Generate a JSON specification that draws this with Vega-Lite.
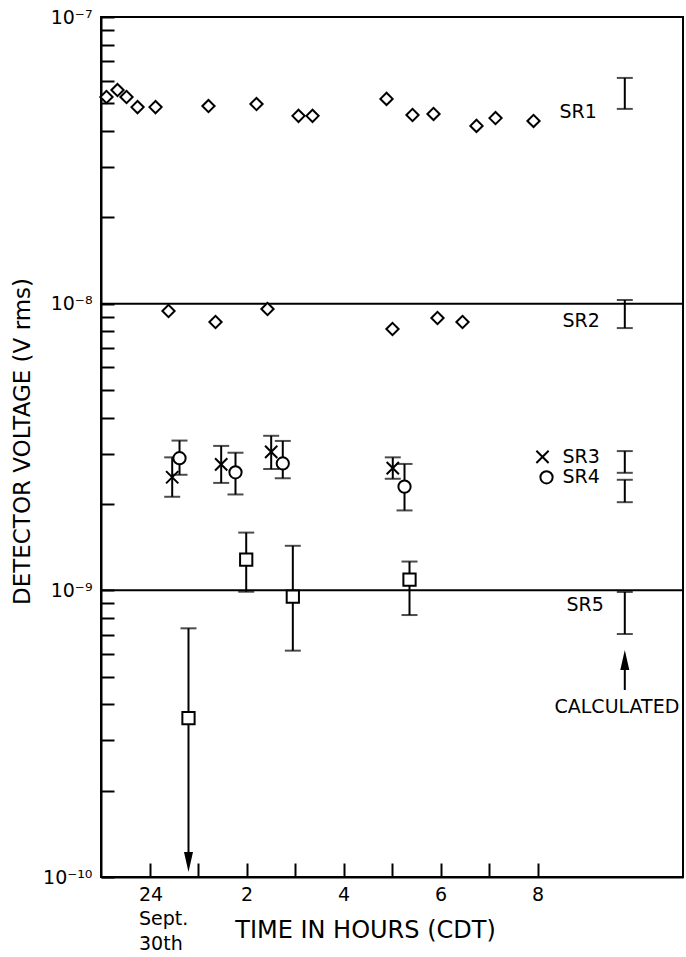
{
  "$schema": "https://vega.github.io/schema/vega-lite/v6.json",
  "width": 582,
  "height": 860,
  "autosize": {"type": "none"},
  "padding": {"left": 101, "top": 17, "right": 3, "bottom": 80},
  "background": "white",
  "config": {
    "font": "DejaVu Sans",
    "view": {"stroke": "black", "strokeWidth": 2},
    "axis": {
      "domainColor": "black", "domainWidth": 2,
      "tickColor": "black", "tickWidth": 2,
      "labelColor": "black", "titleColor": "black",
      "labelFont": "DejaVu Sans", "titleFont": "DejaVu Sans",
      "titleFontWeight": "normal", "grid": false
    }
  },
  "datasets": {
    "grid": [{"v": 1e-8}, {"v": 1e-9}],
    "obs": [
      {"series": "SR1", "t": -0.887, "v": 5.26e-8},
      {"series": "SR1", "t": -0.660, "v": 5.56e-8},
      {"series": "SR1", "t": -0.474, "v": 5.26e-8},
      {"series": "SR1", "t": -0.247, "v": 4.85e-8},
      {"series": "SR1", "t": 0.124, "v": 4.85e-8},
      {"series": "SR1", "t": 1.216, "v": 4.89e-8},
      {"series": "SR1", "t": 2.206, "v": 4.97e-8},
      {"series": "SR1", "t": 3.072, "v": 4.52e-8},
      {"series": "SR1", "t": 3.361, "v": 4.52e-8},
      {"series": "SR1", "t": 4.887, "v": 5.18e-8},
      {"series": "SR1", "t": 5.423, "v": 4.55e-8},
      {"series": "SR1", "t": 5.856, "v": 4.59e-8},
      {"series": "SR1", "t": 6.742, "v": 4.17e-8},
      {"series": "SR1", "t": 7.134, "v": 4.44e-8},
      {"series": "SR1", "t": 7.918, "v": 4.34e-8},
      {"series": "SR2", "t": 0.392, "v": 9.43e-9},
      {"series": "SR2", "t": 1.361, "v": 8.63e-9},
      {"series": "SR2", "t": 2.433, "v": 9.58e-9},
      {"series": "SR2", "t": 5.010, "v": 8.16e-9},
      {"series": "SR2", "t": 5.938, "v": 8.91e-9},
      {"series": "SR2", "t": 6.454, "v": 8.63e-9},
      {"series": "SR3", "t": 0.468, "v": 2.48e-9, "lo": 2.12e-9, "hi": 2.91e-9},
      {"series": "SR3", "t": 1.478, "v": 2.75e-9, "lo": 2.37e-9, "hi": 3.19e-9},
      {"series": "SR3", "t": 2.509, "v": 3.04e-9, "lo": 2.65e-9, "hi": 3.46e-9},
      {"series": "SR3", "t": 5.016, "v": 2.67e-9, "lo": 2.45e-9, "hi": 2.91e-9},
      {"series": "SR4", "t": 0.619, "v": 2.89e-9, "lo": 2.53e-9, "hi": 3.33e-9},
      {"series": "SR4", "t": 1.773, "v": 2.58e-9, "lo": 2.16e-9, "hi": 3.02e-9},
      {"series": "SR4", "t": 2.748, "v": 2.77e-9, "lo": 2.46e-9, "hi": 3.32e-9},
      {"series": "SR4", "t": 5.258, "v": 2.30e-9, "lo": 1.90e-9, "hi": 2.76e-9},
      {"series": "SR5", "t": 0.804, "v": 3.58e-10, "lo": null, "hi": 7.37e-10},
      {"series": "SR5", "t": 1.994, "v": 1.28e-9, "lo": 9.89e-10, "hi": 1.59e-9},
      {"series": "SR5", "t": 2.955, "v": 9.50e-10, "lo": 6.16e-10, "hi": 1.43e-9},
      {"series": "SR5", "t": 5.361, "v": 1.09e-9, "lo": 8.20e-10, "hi": 1.26e-9},
      {"series": "SR1", "t": 9.8, "v": null, "lo": 4.78e-8, "hi": 6.13e-8},
      {"series": "SR2", "t": 9.8, "v": null, "lo": 8.22e-9, "hi": 1.03e-8},
      {"series": "SR3", "t": 9.8, "v": null, "lo": 2.57e-9, "hi": 3.06e-9},
      {"series": "SR4", "t": 9.8, "v": null, "lo": 2.03e-9, "hi": 2.43e-9},
      {"series": "SR5", "t": 9.8, "v": null, "lo": 7.04e-10, "hi": 9.87e-10}
    ],
    "key": [
      {"series": "SR3", "t": 8.103, "v": 2.92e-9},
      {"series": "SR4", "t": 8.186, "v": 2.48e-9}
    ],
    "arrows": [
      {"dir": "down", "t": 0.804, "from": 7.37e-10, "to": 1.127e-10},
      {"dir": "up", "t": 9.8, "from": 4.49e-10, "to": 5.71e-10}
    ],
    "notes": [
      {"label": "SR1", "t": 8.454, "v": 4.66e-8},
      {"label": "SR2", "t": 8.515, "v": 8.70e-9},
      {"label": "SR3", "t": 8.515, "v": 2.92e-9},
      {"label": "SR4", "t": 8.515, "v": 2.48e-9},
      {"label": "SR5", "t": 8.598, "v": 8.89e-10},
      {"label": "CALCULATED", "t": 8.351, "v": 3.92e-10}
    ]
  },
  "layer": [
    {
      "data": {"name": "grid"},
      "mark": {"type": "rule", "color": "black", "strokeWidth": 2},
      "encoding": {
        "y": {
          "field": "v", "type": "quantitative",
          "scale": {"type": "log", "domain": [1e-10, 1e-7], "nice": false},
          "axis": {
            "title": "DETECTOR VOLTAGE (V rms)",
            "titleFontSize": 23,
            "titleAngle": -90,
            "titleAlign": "center",
            "titleBaseline": "middle",
            "titleX": -79,
            "titleY": 424,
            "values": [1e-10, 2e-10, 3e-10, 4e-10, 5e-10, 6e-10, 7e-10, 8e-10, 9e-10,
                       1e-9, 2e-9, 3e-9, 4e-9, 5e-9, 6e-9, 7e-9, 8e-9, 9e-9,
                       1e-8, 2e-8, 3e-8, 4e-8, 5e-8, 6e-8, 7e-8, 8e-8, 9e-8, 1e-7],
            "tickSize": -13,
            "labelPadding": 22,
            "labelFontSize": 19,
            "labelOverlap": false,
            "labelFlush": false,
            "labelExpr": "abs(datum.value * pow(10, round(-log(datum.value) / LN10)) - 1) < 0.01 ? (round(-log(datum.value) / LN10) == 10 ? '10⁻¹⁰' : round(-log(datum.value) / LN10) == 9 ? '10⁻⁹' : round(-log(datum.value) / LN10) == 8 ? '10⁻⁸' : '10⁻⁷') : ''"
          }
        }
      }
    },
    {
      "data": {"name": "obs"},
      "mark": {"type": "rule", "color": "black", "strokeWidth": 2},
      "encoding": {
        "x": {
          "field": "t", "type": "quantitative",
          "scale": {"domain": [-1, 11], "nice": false, "zero": false},
          "axis": {
            "title": "TIME IN HOURS (CDT)",
            "titleFontSize": 24,
            "titleAnchor": null,
            "titleAlign": "center",
            "titleBaseline": "middle",
            "titleX": 264,
            "titleY": 53,
            "values": [0, 1, 2, 3, 4, 5, 6, 7, 8],
            "tickSize": -14,
            "labelPadding": 22,
            "labelFontSize": 19,
            "labelBaseline": "top",
            "labelLineHeight": 24.5,
            "labelOverlap": false,
            "labelFlush": false,
            "labelAlign": {"condition": {"test": "datum.value == 0", "value": "left"}, "value": "center"},
            "labelOffset": {"condition": {"test": "datum.value == 0", "value": -11}, "value": 0},
            "labelExpr": "datum.value == 0 ? ['24', 'Sept.', '30th'] : (datum.value % 2 == 0 ? format(datum.value, 'd') : '')"
          }
        },
        "y": {"field": "lo", "type": "quantitative", "scale": {"type": "log", "domain": [1e-10, 1e-7], "nice": false}},
        "y2": {"field": "hi"}
      }
    },
    {
      "data": {"name": "obs"},
      "mark": {"type": "tick", "orient": "horizontal", "color": "black", "size": 16, "thickness": 2},
      "encoding": {
        "x": {"field": "t", "type": "quantitative", "scale": {"domain": [-1, 11], "nice": false, "zero": false}},
        "y": {"field": "hi", "type": "quantitative", "scale": {"type": "log", "domain": [1e-10, 1e-7], "nice": false}}
      }
    },
    {
      "data": {"name": "obs"},
      "mark": {"type": "tick", "orient": "horizontal", "color": "black", "size": 16, "thickness": 2},
      "encoding": {
        "x": {"field": "t", "type": "quantitative", "scale": {"domain": [-1, 11], "nice": false, "zero": false}},
        "y": {"field": "lo", "type": "quantitative", "scale": {"type": "log", "domain": [1e-10, 1e-7], "nice": false}}
      }
    },
    {
      "data": {"name": "arrows"},
      "mark": {"type": "rule", "color": "black", "strokeWidth": 2},
      "encoding": {
        "x": {"field": "t", "type": "quantitative", "scale": {"domain": [-1, 11], "nice": false, "zero": false}},
        "y": {"field": "from", "type": "quantitative", "scale": {"type": "log", "domain": [1e-10, 1e-7], "nice": false}},
        "y2": {"field": "to"}
      }
    },
    {
      "data": {"name": "arrows"},
      "transform": [{"filter": "datum.dir == 'down'"}],
      "mark": {"type": "point", "filled": true, "color": "black", "size": 400, "strokeWidth": 0, "opacity": 1, "shape": "M-0.45,-1L0.45,-1L0,1Z"},
      "encoding": {
        "x": {"field": "t", "type": "quantitative", "scale": {"domain": [-1, 11], "nice": false, "zero": false}},
        "y": {"field": "to", "type": "quantitative", "scale": {"type": "log", "domain": [1e-10, 1e-7], "nice": false}}
      }
    },
    {
      "data": {"name": "arrows"},
      "transform": [{"filter": "datum.dir == 'up'"}],
      "mark": {"type": "point", "filled": true, "color": "black", "size": 400, "strokeWidth": 0, "opacity": 1, "shape": "M0,-1L0.45,1L-0.45,1Z"},
      "encoding": {
        "x": {"field": "t", "type": "quantitative", "scale": {"domain": [-1, 11], "nice": false, "zero": false}},
        "y": {"field": "to", "type": "quantitative", "scale": {"type": "log", "domain": [1e-10, 1e-7], "nice": false}}
      }
    },
    {
      "layer": [
        {"data": {"name": "obs"}, "mark": {"type": "point", "fill": "white", "stroke": "black", "strokeWidth": 2, "opacity": 1}},
        {"data": {"name": "key"}, "mark": {"type": "point", "fill": "white", "stroke": "black", "strokeWidth": 2, "opacity": 1}}
      ],
      "encoding": {
        "x": {"field": "t", "type": "quantitative", "scale": {"domain": [-1, 11], "nice": false, "zero": false}},
        "y": {"field": "v", "type": "quantitative", "scale": {"type": "log", "domain": [1e-10, 1e-7], "nice": false}},
        "shape": {
          "field": "series", "type": "nominal", "legend": null,
          "scale": {"domain": ["SR1", "SR2", "SR3", "SR4", "SR5"], "range": ["diamond", "diamond", "M-1,-1L1,1M1,-1L-1,1", "circle", "square"]}
        },
        "size": {
          "field": "series", "type": "ordinal", "legend": null,
          "scale": {"domain": ["SR1", "SR2", "SR3", "SR4", "SR5"], "range": [150, 150, 50, 81, 90]}
        }
      }
    },
    {
      "data": {"name": "notes"},
      "mark": {"type": "text", "align": "left", "baseline": "middle", "fontSize": 19, "font": "DejaVu Sans", "color": "black"},
      "encoding": {
        "x": {"field": "t", "type": "quantitative", "scale": {"domain": [-1, 11], "nice": false, "zero": false}},
        "y": {"field": "v", "type": "quantitative", "scale": {"type": "log", "domain": [1e-10, 1e-7], "nice": false}},
        "text": {"field": "label"}
      }
    }
  ]
}
